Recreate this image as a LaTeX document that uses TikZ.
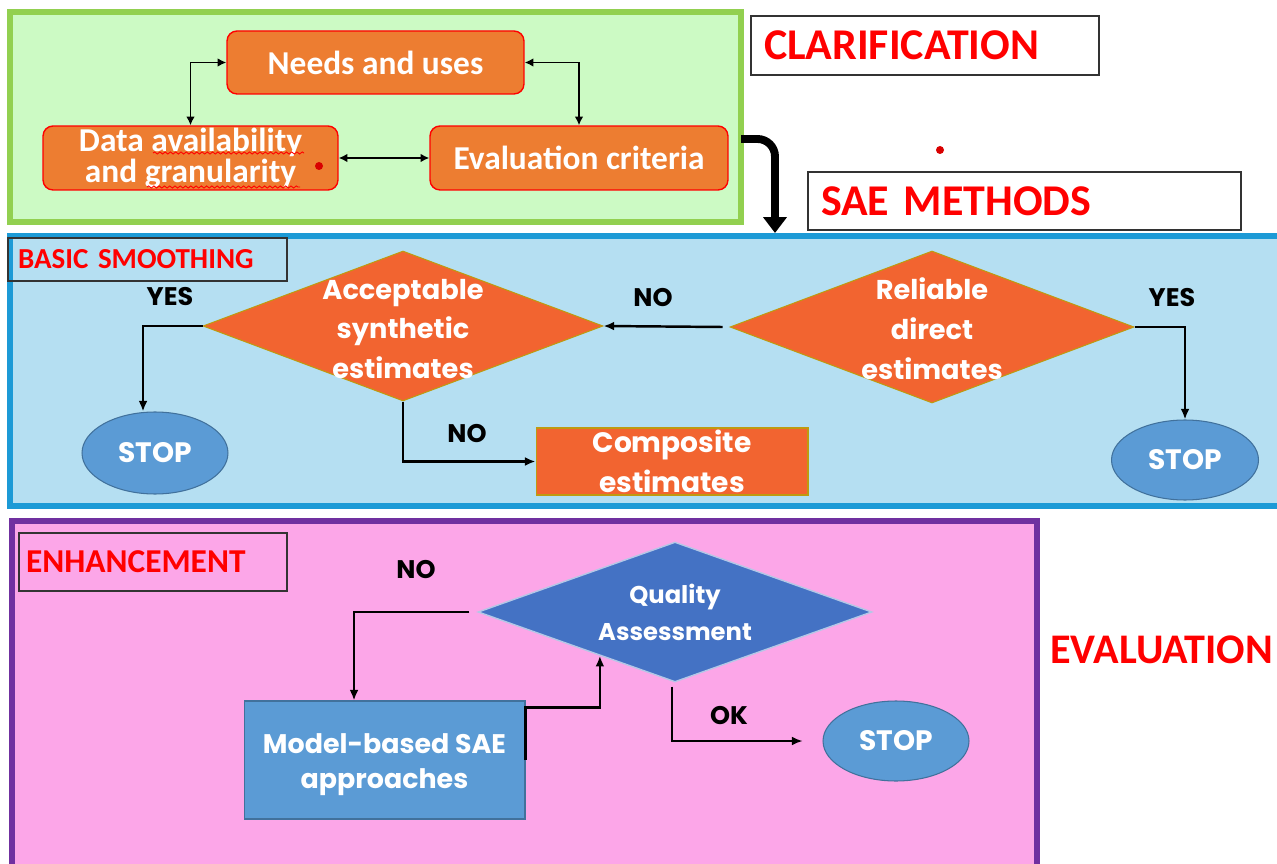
\documentclass[tikz,border=0pt]{standalone}
\usepackage{fontspec}
\setmainfont{Carlito}
\newfontfamily\popfont{Poppins}
\usetikzlibrary{shapes.geometric,arrows.meta,calc,decorations.pathmorphing}
\definecolor{gfill}{HTML}{CCFAC4}
\definecolor{gline}{HTML}{92D050}
\definecolor{obox}{HTML}{ED7D31}
\definecolor{bfill}{HTML}{B5DFF2}
\definecolor{bline}{HTML}{1C9AD6}
\definecolor{dfill}{HTML}{F26430}
\definecolor{dline}{HTML}{BF9A10}
\definecolor{sfill}{HTML}{5B9BD5}
\definecolor{sline}{HTML}{41719C}
\definecolor{pfill}{HTML}{FCA6E8}
\definecolor{pline}{HTML}{7030A0}
\definecolor{qfill}{HTML}{4472C4}
\definecolor{qline}{HTML}{B4C7E7}
\tikzset{
  panel/.style={line width=3pt},
  topbox/.style={rectangle, rounded corners=0.2cm, fill=obox, draw=red, line width=0.8pt,
     text=white, font=\fontsize{19}{18}\selectfont\bfseries, align=center, inner sep=0pt},
  titlebox/.style={rectangle, draw=black!80, line width=1pt, fill=none, text=red,
     font=\bfseries, align=left, anchor=center, inner sep=0pt},
  dia/.style={diamond, fill=dfill, draw=dline, line width=0.6pt, inner sep=0pt},
  dtext/.style={text=white, align=center, font=\popfont\bfseries\fontsize{15.5}{22.7}\selectfont},
  stopnode/.style={ellipse, fill=sfill, draw=sline, line width=0.6pt, text=white,
     font=\popfont\bfseries\fontsize{16}{18}\selectfont, inner sep=0pt},
  lbl/.style={text=black, font=\popfont\bfseries\fontsize{14.5}{16}\selectfont},
  conn/.style={line width=1.4pt, -{Latex[length=6pt,width=5pt]}},
  dconn/.style={line width=1pt, {Latex[length=5pt,width=5pt]}-{Latex[length=5pt,width=5pt]}},
  wavy/.style={red, line width=0.5pt, decorate, decoration={snake, amplitude=0.6pt, segment length=3pt}}
}
\begin{document}
\begin{tikzpicture}[x=0.02cm,y=-0.02cm]
\useasboundingbox (0,0) rectangle (1277,864);
\fill[white] (0,0) rectangle (1277,864);
% panels
\node[rectangle, panel, draw=gline, fill=gfill, minimum width=14.62cm, minimum height=4.2cm, inner sep=0pt] (green) at (375.5,117) {};
\node[rectangle, panel, draw=bline, fill=bfill, minimum width=25.44cm, minimum height=5.4cm, inner sep=0pt] (blue) at (646,371) {};
\node[rectangle, panel, draw=pline, fill=pfill, minimum width=20.5cm, minimum height=7.0cm, inner sep=0pt] (pink) at (524.5,696) {};
% clarification boxes
\node[topbox, minimum width=5.94cm, minimum height=1.26cm] (needs) at (375.5,62.5) {Needs and uses};
\node[topbox, minimum width=5.9cm, minimum height=1.28cm] (data) at (190.5,158) {Data availability\\and granularity};
\node[topbox, minimum width=5.96cm, minimum height=1.28cm] (eval) at (579,158) {Evaluation criteria};
\draw[wavy] (153,153) -- (304,153);
\draw[wavy] (147,187) -- (300,187);
\fill[red!85!black] (319,166) circle (4);
\fill[red!85!black] (940,150) circle (4);
\draw[dconn] (needs.west) -| (data.north);
\draw[dconn] (needs.east) -| (eval.north);
\draw[dconn] (data.east) -- (eval.west);
% titles
\node[titlebox, minimum width=6.96cm, minimum height=1.18cm, text width=6.44cm, font=\bfseries\fontsize{25}{28}\selectfont] (clar) at (925,45.5) {CLARIFICATION};
\node[titlebox, minimum width=8.66cm, minimum height=1.16cm, text width=8.14cm, font=\bfseries\fontsize{25}{28}\selectfont] (sae) at (1024.5,201) {SAE METHODS};
\coordinate (g1) at (741,139);
\coordinate (g2) at (775,233);
\draw[line width=4.5pt, rounded corners=0.35cm, -{Triangle[length=9pt,width=13pt]}] (g1) -| (g2);
% basic smoothing
\node[titlebox, minimum width=5.58cm, minimum height=0.86cm, text width=5.18cm, font=\bfseries\fontsize{16.5}{18}\selectfont] (bs) at (147.5,259.5) {BASIC SMOOTHING};
\node[dia, minimum width=8.0cm, minimum height=3.0cm] (acc) at (403,326) {};
\node[dtext] (acct) at ([yshift=-0.06cm]acc.center) {Acceptable\\synthetic\\estimates};
\node[dia, minimum width=8.08cm, minimum height=3.04cm] (rel) at (932,327) {};
\node[dtext] (relt) at ([yshift=-0.04cm]rel.center) {Reliable\\direct\\estimates};
\node[stopnode, minimum width=2.92cm, minimum height=1.64cm] (stopL) at (155,453) {STOP};
\node[stopnode, minimum width=2.94cm, minimum height=1.6cm] (stopR) at (1185,460) {STOP};
\node[rectangle, fill=dfill, draw=dline, line width=0.6pt, minimum width=5.44cm, minimum height=1.34cm, inner sep=0pt, text=white, align=center, font=\popfont\bfseries\fontsize{16}{22.7}\selectfont] (comp) at (672,461.5) {Composite\\estimates};
\draw[conn] ([xshift=-0.14cm]rel.west) -- (acc.east);
\draw[conn] (acc.west) -| ([xshift=-0.24cm]stopL.north);
\draw[conn] (rel.east) -| (stopR.north);
\draw[conn] (acc.south) |- (comp.west);
\node[lbl] (yes1) at (170,297) {YES};
\node[lbl] (no1) at (653,298) {NO};
\node[lbl] (yes2) at (1172,298) {YES};
\node[lbl] (no2) at (467,434) {NO};
% enhancement
\node[titlebox, minimum width=5.36cm, minimum height=1.16cm, text width=5.08cm, font=\bfseries\fontsize{19}{20}\selectfont] (enh) at (153,562) {ENHANCEMENT};
\node[diamond, fill=qfill, draw=qline, line width=0.8pt, inner sep=0pt, minimum width=7.88cm, minimum height=2.8cm] (qa) at (675,612) {};
\node[text=white, align=center, font=\popfont\bfseries\fontsize{13.8}{21}\selectfont] (qat) at (qa.center) {Quality\\Assessment};
\node[rectangle, fill=sfill, draw=sline, line width=0.6pt, minimum width=5.62cm, minimum height=2.36cm, inner sep=0pt] (model) at (384.5,760) {};
\node[text=white, align=center, font=\popfont\bfseries\fontsize{15.3}{20}\selectfont] (modelt) at ([yshift=-0.1cm]model.center) {Model-based SAE\\approaches};
\node[stopnode, minimum width=2.92cm, minimum height=1.6cm] (stopB) at (896,741) {STOP};
\draw[conn] ([xshift=-0.16cm]qa.west) -| ([xshift=-0.61cm]model.north);
\draw[conn] (model.east) -- ([yshift=-0.14cm]model.north east) -| ($(qa.west)!0.62!(qa.south)$);
\draw[line width=1pt, -{Latex[length=6pt,width=5pt]}] ([xshift=-0.06cm,yshift=-0.08cm]qa.south) |- ([xshift=-0.4cm]stopB.west);
\node[lbl] (no3) at (416,570) {NO};
\node[lbl] (ok) at (729,716) {OK};
\node[anchor=west, text=red, font=\bfseries\fontsize{24}{28}\selectfont, inner sep=0pt] (evl) at (1050,650) {EVALUATION};
\end{tikzpicture}
\end{document}
